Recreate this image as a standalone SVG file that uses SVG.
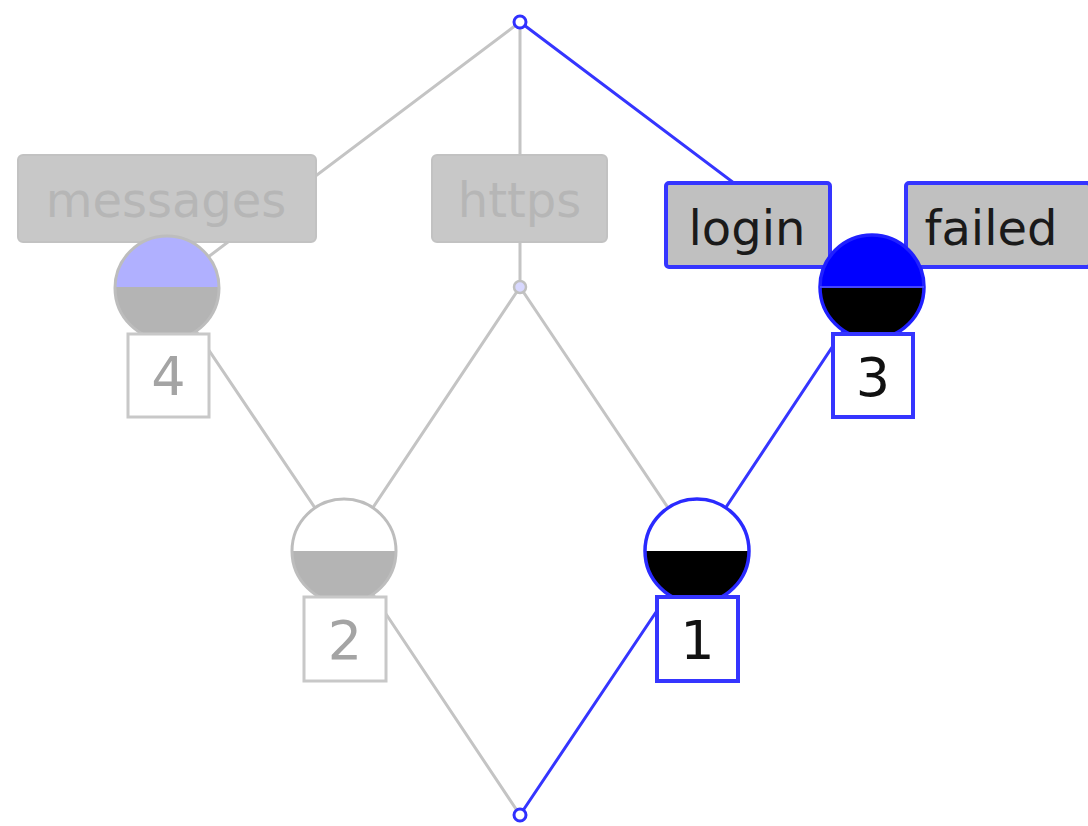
<svg xmlns="http://www.w3.org/2000/svg" width="1088" height="826" viewBox="0 0 1088 826">
  <style>
    .edge { fill: none; stroke-width: 3; stroke-linecap: round; }
    .dim { stroke: #c4c4c4; }
    .hot { stroke: #3535ff; }
    .lbl { font-family: "DejaVu Sans", "Liberation Sans", sans-serif; font-size: 48px; text-anchor: middle; }
    .num { font-family: "DejaVu Sans", "Liberation Sans", sans-serif; font-size: 54px; text-anchor: middle; }
    .tagDim { fill: #c8c8c8; stroke: #c2c2c2; stroke-width: 2; }
    .tagHot { fill: #c0c0c0; stroke: #3535ff; stroke-width: 4; }
    .boxDim { fill: #ffffff; stroke: #c8c8c8; stroke-width: 3; }
    .boxHot { fill: #ffffff; stroke: #3535ff; stroke-width: 4; }
  </style>
  <defs>
    <clipPath id="topHalf4"><rect x="100" y="220" width="140" height="67"/></clipPath>
    <clipPath id="botHalf4"><rect x="100" y="287" width="140" height="70"/></clipPath>
    <clipPath id="topHalf3"><rect x="805" y="220" width="140" height="67"/></clipPath>
    <clipPath id="botHalf3"><rect x="805" y="287" width="140" height="70"/></clipPath>
    <clipPath id="botHalf2"><rect x="280" y="551" width="140" height="70"/></clipPath>
    <clipPath id="botHalf1"><rect x="630" y="551" width="140" height="70"/></clipPath>
  </defs>

  <!-- connectors, drawn beneath the nodes -->
  <g id="connectors">
    <line class="edge dim" x1="520" y1="22" x2="167" y2="288"/>
    <line class="edge dim" x1="520" y1="22" x2="520" y2="287"/>
    <line class="edge dim" x1="167" y1="288" x2="344" y2="551"/>
    <line class="edge dim" x1="520" y1="287" x2="344" y2="551"/>
    <line class="edge dim" x1="520" y1="287" x2="697" y2="551"/>
    <line class="edge dim" x1="344" y1="551" x2="520" y2="815"/>
    <line class="edge hot" x1="520" y1="22" x2="872" y2="287"/>
    <line class="edge hot" x1="697" y1="551" x2="872" y2="287"/>
    <line class="edge hot" x1="697" y1="551" x2="520" y2="815"/>
  </g>

  <!-- top element -->
  <g id="top">
    <circle cx="520" cy="22" r="6" fill="#ffffff" stroke="#3030ff" stroke-width="3"/>
  </g>

  <!-- https attribute point -->
  <g id="https">
    <rect class="tagDim" x="432" y="155" width="175" height="87" rx="5"/>
    <text class="lbl" x="519.5" y="217" fill="#b6b6b6">https</text>
    <circle cx="520" cy="287" r="6" fill="#d8d8ff" stroke="#c0c0c0" stroke-width="2.5"/>
  </g>

  <!-- concept 4 -->
  <g id="node4">
    <rect class="tagDim" x="18" y="155" width="298" height="87" rx="5"/>
    <text class="lbl" x="166" y="217" fill="#b6b6b6">messages</text>
    <circle cx="167" cy="288" r="52" fill="#b0b0ff" clip-path="url(#topHalf4)"/>
    <circle cx="167" cy="288" r="52" fill="#b4b4b4" clip-path="url(#botHalf4)"/>
    <circle cx="167" cy="288" r="52" fill="none" stroke="#bdbdbd" stroke-width="3"/>
    <rect class="boxDim" x="128" y="334" width="81" height="83"/>
    <text class="num" x="168.5" y="395" fill="#a4a4a4">4</text>
  </g>

  <!-- concept 3 -->
  <g id="node3">
    <rect class="tagHot" x="666" y="183" width="164" height="84" rx="3"/>
    <text class="lbl" x="747" y="245" fill="#1a1a1a">login</text>
    <rect class="tagHot" x="906" y="183" width="184" height="84" rx="3"/>
    <text class="lbl" x="991" y="245" fill="#1a1a1a">failed</text>
    <circle cx="872" cy="287" r="52" fill="#0000ff" clip-path="url(#topHalf3)"/>
    <circle cx="872" cy="287" r="52" fill="#000000" clip-path="url(#botHalf3)"/>
    <circle cx="872" cy="287" r="52" fill="none" stroke="#2020ff" stroke-width="3.5"/>
    <line x1="820" y1="287" x2="924" y2="287" stroke="#4444ff" stroke-width="2"/>
    <rect class="boxHot" x="833" y="334" width="80" height="83"/>
    <text class="num" x="873" y="396" fill="#111111">3</text>
  </g>

  <!-- concept 2 -->
  <g id="node2">
    <circle cx="344" cy="551" r="52" fill="#ffffff"/>
    <circle cx="344" cy="551" r="52" fill="#b4b4b4" clip-path="url(#botHalf2)"/>
    <circle cx="344" cy="551" r="52" fill="none" stroke="#bdbdbd" stroke-width="3"/>
    <rect class="boxDim" x="304" y="597" width="82" height="84"/>
    <text class="num" x="345" y="659" fill="#a4a4a4">2</text>
  </g>

  <!-- concept 1 -->
  <g id="node1">
    <circle cx="697" cy="551" r="52" fill="#ffffff"/>
    <circle cx="697" cy="551" r="52" fill="#000000" clip-path="url(#botHalf1)"/>
    <circle cx="697" cy="551" r="52" fill="none" stroke="#2a2aff" stroke-width="3.5"/>
    <rect class="boxHot" x="657" y="597" width="81" height="84"/>
    <text class="num" x="697.5" y="659" fill="#111111">1</text>
  </g>

  <!-- bottom element -->
  <g id="bottom">
    <circle cx="520" cy="815" r="6" fill="#ffffff" stroke="#3030ff" stroke-width="3"/>
  </g>
</svg>
